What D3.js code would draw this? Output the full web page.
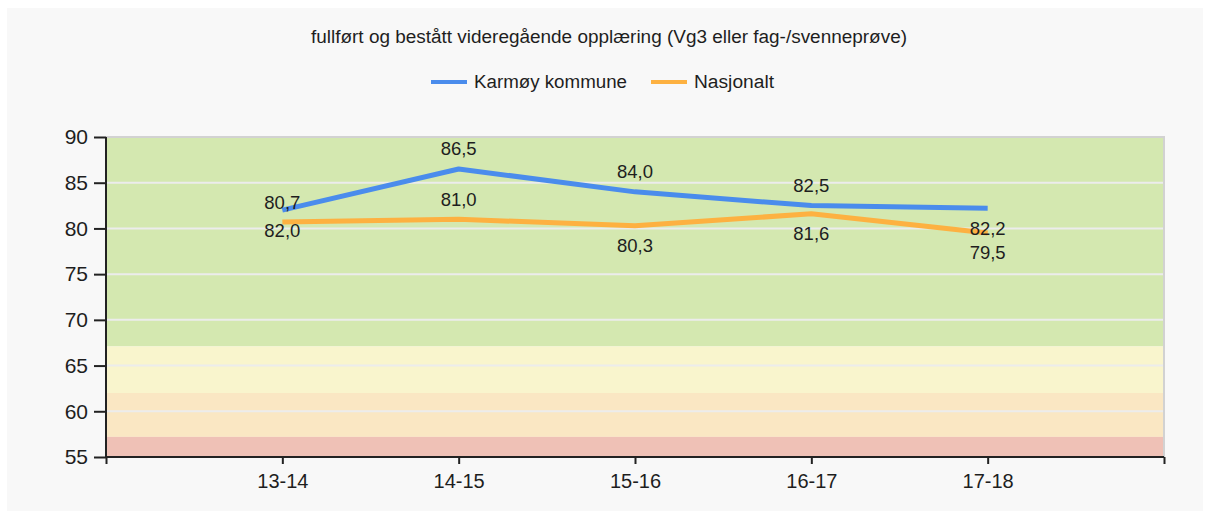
<!DOCTYPE html>
<html>
<head>
<meta charset="utf-8">
<script src="https://cdn.jsdelivr.net/npm/d3@7"></script>
<style>
  html, body { margin: 0; padding: 0; background: #ffffff; }
  svg { display: block; }
  text { font-family: "Liberation Sans", Arial, sans-serif; fill: #1e1e1e; }
</style>
</head>
<body>
<svg id="chart" width="1205" height="513"></svg>
<script>
// Data
const title = "fullført og bestått videregående opplæring (Vg3 eller fag-/svenneprøve)";
const categories = ["13-14", "14-15", "15-16", "16-17", "17-18"];
const seriesNames = ["Karmøy kommune", "Nasjonalt"];
const karmoy = [82.0, 86.5, 84.0, 82.5, 82.2];
const nasjonalt = [80.7, 81.0, 80.3, 81.6, 79.5];
const yTicks = [55, 60, 65, 70, 75, 80, 85, 90];
// Background zones: [from, to]
const zoneBounds = [[67.1, 90], [62.0, 67.1], [57.2, 62.0], [55, 57.2]];

// Styling
const zoneColors = ["#d4e8b0", "#f9f5cd", "#fae7c3", "#efc1b6"];
const seriesColors = ["#4a8cec", "#fdb141"];
// label placement per point: -1 above, +1 below
const labelSide = [
  [1, -1, -1, -1, 1],
  [-1, -1, 1, 1, 1]
];

const svg = d3.select("#chart");
svg.append("rect").attr("x", 7).attr("y", 8).attr("width", 1196).attr("height", 503).attr("fill", "#f8f8f8");

const plot = { left: 106, right: 1164, top: 137, bottom: 457 };
const x = d3.scaleLinear().domain([0, categories.length + 1]).range([plot.left, plot.right]);
const y = d3.scaleLinear().domain([55, 90]).range([plot.bottom, plot.top]);

// zones
svg.append("g").selectAll("rect").data(zoneBounds).join("rect")
  .attr("x", plot.left).attr("width", plot.right - plot.left)
  .attr("y", d => y(d[1])).attr("height", d => y(d[0]) - y(d[1]))
  .attr("fill", (d, i) => zoneColors[i]);

// gridlines
svg.append("g").selectAll("line").data(yTicks.filter(t => t > 55 && t < 90)).join("line")
  .attr("x1", plot.left).attr("x2", plot.right)
  .attr("y1", d => y(d)).attr("y2", d => y(d))
  .attr("stroke", "#ececec").attr("stroke-width", 2);

// plot frame (top/right)
svg.append("path")
  .attr("d", `M${plot.left},${plot.top}H${plot.right}V${plot.bottom}`)
  .attr("fill", "none").attr("stroke", "#d2d2d2").attr("stroke-width", 2);

// y axis
const yAxis = d3.axisLeft(y).tickValues(yTicks).tickSize(12).tickPadding(6).tickFormat(d3.format("d"));
const gy = svg.append("g").attr("transform", `translate(${plot.left},0)`).call(yAxis);
gy.select(".domain").attr("stroke", "#222").attr("stroke-width", 2).attr("d", `M0,${plot.top}V${plot.bottom}`);
gy.selectAll(".tick line").attr("stroke", "#222").attr("stroke-width", 2);
gy.selectAll(".tick text").attr("font-size", 21).attr("font-family", "Liberation Sans, Arial, sans-serif").attr("fill", "#1e1e1e");

// x axis
const xTickVals = d3.range(0, categories.length + 2);
const xAxis = d3.axisBottom(x).tickValues(xTickVals).tickSize(7).tickPadding(10)
  .tickFormat(d => (d >= 1 && d <= categories.length) ? categories[d - 1] : "");
const gx = svg.append("g").attr("transform", `translate(0,${plot.bottom})`).call(xAxis);
gx.select(".domain").attr("stroke", "#222").attr("stroke-width", 2).attr("d", `M${plot.left},0H${plot.right}`);
gx.selectAll(".tick line").attr("stroke", "#222").attr("stroke-width", 2);
gx.selectAll(".tick text").attr("font-size", 20).attr("font-family", "Liberation Sans, Arial, sans-serif").attr("fill", "#1e1e1e");

// lines
const allSeries = [karmoy, nasjonalt];
const line = d3.line().x((d, i) => x(i + 1)).y(d => y(d));
allSeries.forEach((vals, s) => {
  svg.append("path").datum(vals)
    .attr("d", line).attr("fill", "none")
    .attr("stroke", seriesColors[s]).attr("stroke-width", 5)
    .attr("stroke-linejoin", "round");
});

// value labels
const fmt = v => d3.format(".1f")(v).replace(".", ",");
allSeries.forEach((vals, s) => {
  svg.append("g").selectAll("text").data(vals).join("text")
    .attr("x", (d, i) => x(i + 1))
    .attr("y", (d, i) => y(d) + labelSide[s][i] * 20)
    .attr("dy", "0.35em")
    .attr("text-anchor", "middle")
    .attr("font-size", 18.5)
    .text(d => fmt(d));
});

// title
svg.append("text").attr("x", 609).attr("y", 37).attr("dy", "0.35em")
  .attr("text-anchor", "middle").attr("font-size", 18)
  .attr("textLength", 596).attr("lengthAdjust", "spacingAndGlyphs")
  .text(title);

// legend
const legendItems = [
  { name: seriesNames[0], color: seriesColors[0], x: 431, w: 153 },
  { name: seriesNames[1], color: seriesColors[1], x: 651, w: 80 }
];
const lg = svg.append("g").selectAll("g").data(legendItems).join("g")
  .attr("transform", d => `translate(${d.x},82)`);
lg.append("line").attr("x1", 0).attr("x2", 36).attr("stroke", d => d.color).attr("stroke-width", 4);
lg.append("text").attr("x", 43).attr("dy", "0.35em").attr("font-size", 18)
  .attr("textLength", d => d.w).attr("lengthAdjust", "spacingAndGlyphs")
  .text(d => d.name);
</script>
</body>
</html>
